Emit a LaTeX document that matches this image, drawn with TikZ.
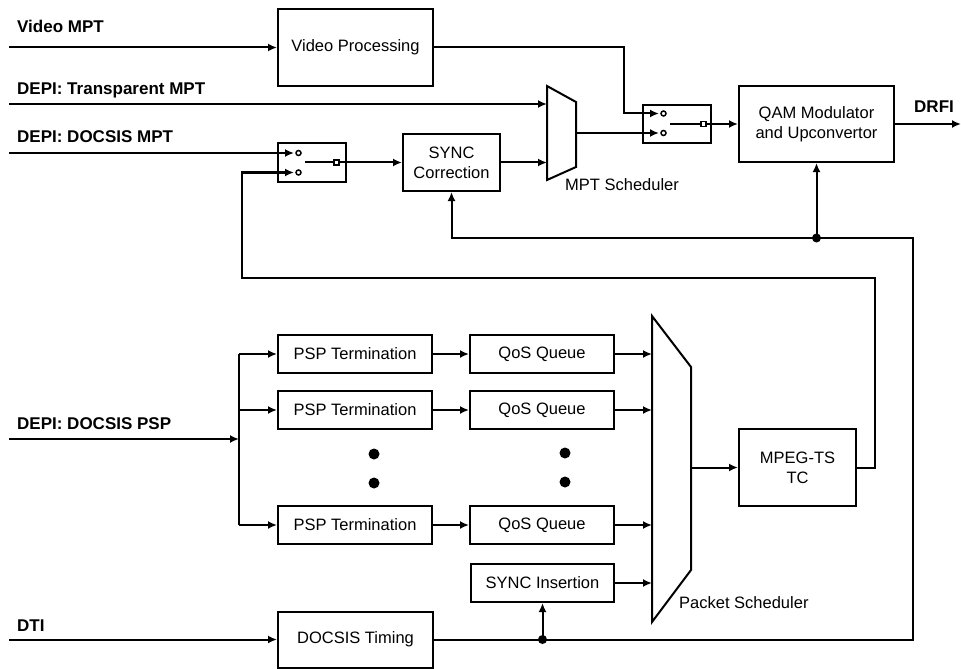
\documentclass[tikz,border=0pt]{standalone}
\usepackage{fontspec}
\setmainfont{Liberation Sans}
\usetikzlibrary{arrows.meta}
\begin{document}
\begin{tikzpicture}[x=1bp,y=-1bp,
  ln/.style={line width=2bp},
  arr/.style={line width=2bp,-{Latex[length=9bp,width=8bp]}},
  box/.style={draw,line width=2bp,inner sep=0pt,align=center,
    font=\fontsize{16.5bp}{20bp}\selectfont},
  lbl/.style={anchor=base west,inner sep=0pt,font=\fontsize{17bp}{20bp}\selectfont\bfseries},
  txt/.style={anchor=base west,inner sep=0pt,font=\fontsize{16.5bp}{20bp}\selectfont},
  bigbox/.style={box,minimum width=155bp,minimum height=77bp},
  rowbox/.style={box,minimum width=154bp,minimum height=38bp},
  qbox/.style={box,minimum width=144bp,minimum height=38bp},
  swbox/.style={box,minimum width=68bp,minimum height=38bp},
  jdot/.style={fill=black},
  sdot/.style={fill=black},
  ocirc/.style={draw,line width=1.5bp,fill=white}
]
\useasboundingbox (0,0) rectangle (961,669);

% labels
\node[lbl] (lvmpt) at (17,33) {Video MPT};
\node[lbl] (ltmpt) at (17,95) {DEPI: Transparent MPT};
\node[lbl] (ldmpt) at (17,143) {DEPI: DOCSIS MPT};
\node[lbl] (ldpsp) at (17,429) {DEPI: DOCSIS PSP};
\node[lbl] (ldti) at (17,631) {DTI};
\node[lbl] (ldrfi) at (914,113) {DRFI};
\node[txt] (lmpts) at (565,191) {MPT Scheduler};
\node[txt] (lpkts) at (679,608) {Packet Scheduler};

% boxes
\node[bigbox] (vp) at (355.5,47.5) {Video Processing};
\node[box,minimum width=97bp,minimum height=57bp] (sc) at (451.5,162.5) {SYNC\\Correction};
\node[swbox,minimum height=39bp] (sw1) at (312,162.5) {};
\node[swbox] (sw2) at (677,124) {};
\node[box,minimum width=155bp,minimum height=76bp] (qam) at (816.5,124) {QAM Modulator\\and Upconvertor};
\node[rowbox] (psp1) at (355,354) {PSP Termination};
\node[rowbox] (psp2) at (355,410) {PSP Termination};
\node[rowbox] (psp3) at (355,525) {PSP Termination};
\node[qbox] (qos1) at (542,354) {QoS Queue};
\node[qbox] (qos2) at (542,410) {QoS Queue};
\node[qbox] (qos3) at (542,525) {QoS Queue};
\node[box,minimum width=143bp,minimum height=38bp] (si) at (542.5,583) {SYNC Insertion};
\node[box,minimum width=117bp,minimum height=77bp] (mpeg) at (797.5,467.5) {MPEG-TS\\TC};
\node[box,minimum width=155bp,minimum height=56bp] (dt) at (355.5,639.5) {DOCSIS Timing};

% MPT scheduler trapezoid
\coordinate (m1) at (547,86);
\coordinate (m2) at (576,102);
\coordinate (m3) at (576,167);
\coordinate (m4) at (547,180);
\draw[ln,line join=miter] (m1) -- (m2) -- (m3) -- (m4) -- cycle;
\coordinate (mptin1) at (547,104);
\coordinate (mptin2) at (547,162.5);
\coordinate (mptout) at (576,133);

% Packet scheduler trapezoid
\coordinate (p1) at (652,316);
\coordinate (p2) at (691,367);
\coordinate (p3) at (691,570);
\coordinate (p4) at (652,622);
\draw[ln,line join=miter] (p1) -- (p2) -- (p3) -- (p4) -- cycle;
\coordinate (pin) at (652,0);
\coordinate (pktout) at (691,467.5);

% input free ends
\coordinate (vmpt) at (9,47.5);
\coordinate (tmpt) at (9,104);
\coordinate (dmpt) at (9,153);
\coordinate (dpsp) at (9,439);
\coordinate (dti) at (9,639.5);
\coordinate (drfi) at (961,124);

% switch 1
\coordinate (sw1a) at (294,153);
\coordinate (sw1b) at (294,172.5);
\coordinate (sw1o) at (339,162.5);
\draw[arr] (dmpt) -- (sw1a);
\draw[ocirc] (298.5,153) circle (2.5);
\draw[ocirc] (298.5,172.5) circle (2.5);
\draw[ln] (305,162.5) -- (334,162.5);
\draw[line width=1.5bp] (334,160) rectangle (339,165);
\draw[arr] (sw1o) -- (sc.west);

% switch 2
\coordinate (c1) at (624,113.5);
\coordinate (sw2a) at (659,113.5);
\coordinate (sw2b) at (659,133);
\coordinate (sw2o) at (706,124);
\draw[arr] (vp.east) -| (c1) -- (sw2a);
\draw[arr] (mptout) -- (sw2b);
\draw[ocirc] (663.5,113.5) circle (2.5);
\draw[ocirc] (663.5,133) circle (2.5);
\draw[ln] (670,124) -- (701,124);
\draw[line width=1.5bp] (701,121.5) rectangle (706,126.5);
\draw[arr] (sw2o) -- (qam.west);

% top flows
\draw[arr] (vmpt) -- (vp.west);
\draw[arr] (tmpt) -- (mptin1);
\draw[arr] (sc.east) -- (mptin2);
\draw[arr] (qam.east) -- (drfi);

% feedback timing
\coordinate (fbB) at (913,238);
\coordinate (j1) at (qam.south |- fbB);
\coordinate (j2) at (si.south |- dt.east);
\draw[arr] (dt.east) -- (dt.east -| fbB) -- (fbB) -- (sc.south |- fbB) -- (sc.south);
\draw[arr] (j1) -- (qam.south);
\draw[arr] (j2) -- (si.south);
\fill[jdot] (j1) circle (4.5);
\fill[jdot] (j2) circle (4.5);

% MPEG output to switch 1
\coordinate (mo1) at (875,278);
\coordinate (mo2) at (242,278);
\draw[arr] (mpeg.east) -| (mo1) -- (mo2) |- (sw1b);
\draw[arr] (pktout) -- (mpeg.west);

% PSP inputs
\coordinate (bus) at (239,439);
\draw[arr] (dpsp) -- (bus);
\draw[ln] (psp1.west -| bus) -- (psp3.west -| bus);
\draw[arr] (psp1.west -| bus) -- (psp1.west);
\draw[arr] (psp2.west -| bus) -- (psp2.west);
\draw[arr] (psp3.west -| bus) -- (psp3.west);
\draw[arr] (psp1.east) -- (qos1.west);
\draw[arr] (psp2.east) -- (qos2.west);
\draw[arr] (psp3.east) -- (qos3.west);
\draw[arr] (qos1.east) -- (qos1.east -| pin);
\draw[arr] (qos2.east) -- (qos2.east -| pin);
\draw[arr] (qos3.east) -- (qos3.east -| pin);
\draw[arr] (si.east) -- (si.east -| pin);
\draw[arr] (dti) -- (dt.west);

% ellipsis dots
\fill[sdot] (374,454) circle (5.5);
\fill[sdot] (374,483) circle (5.5);
\fill[sdot] (565,453) circle (5.5);
\fill[sdot] (565,482) circle (5.5);
\end{tikzpicture}
\end{document}
